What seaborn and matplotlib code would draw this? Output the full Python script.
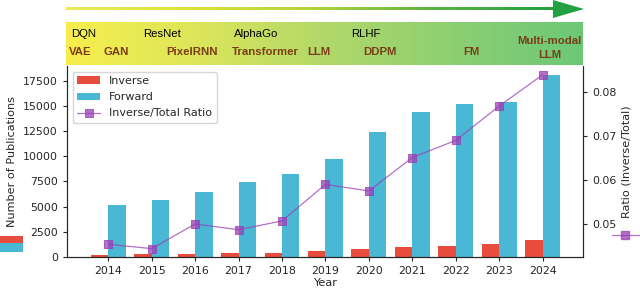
import numpy as np
import pandas as pd
import seaborn as sb
import matplotlib.pyplot as plt
from matplotlib.colors import LinearSegmentedColormap
from matplotlib.patches import Rectangle, Polygon
from matplotlib.lines import Line2D

# ##############################################################################
# data
years = [2014, 2015, 2016, 2017, 2018, 2019, 2020, 2021, 2022, 2023, 2024]
inverse = [245, 264, 338, 379, 438, 608, 759, 1002, 1125, 1282, 1654]
forward = [5160, 5690, 6420, 7410, 8200, 9700, 12440, 14390, 15180, 15410, 18060]
ratio = [0.0454, 0.0444, 0.0500, 0.0487, 0.0507, 0.0590, 0.0575, 0.0651, 0.0690, 0.0768, 0.0839]

# milestones on the banner (x as fraction of the banner width)
top_row = ['DQN', 'ResNet', 'AlphaGo', 'RLHF']
top_x = [0.010, 0.150, 0.324, 0.551]
bottom_row = ['VAE', 'GAN', 'PixelRNN', 'Transformer', 'LLM', 'DDPM', 'FM']
bottom_x = [0.006, 0.072, 0.194, 0.321, 0.467, 0.574, 0.768]

C_INV = '#e74c3c'
C_FWD = '#4ab8d5'
C_RAT = '#9b3fb5'
C_MILE = '#7a3e17'
FS_TICK = 7.9
FS_LAB = 8.1

# ##############################################################################
sb.set_style('ticks')
plt.rcParams['font.family'] = ['DejaVu Sans']

fig = plt.figure(figsize=(6.4, 2.91), dpi=100)
ax = fig.add_axes([67/640, 1-257/291, (583-67)/640, (257-66)/291])

df = pd.DataFrame({'Year': years * 2,
                   'Count': inverse + forward,
                   'Type': ['Inverse'] * len(years) + ['Forward'] * len(years)})
sb.barplot(data=df, x='Year', y='Count', hue='Type',
           palette={'Inverse': C_INV, 'Forward': C_FWD},
           width=0.8, linewidth=0, saturation=1, ax=ax)
ax.set_xlim(-0.95, len(years) - 1 + 0.93)
ax.set_ylim(0, 18960)
ax.set_yticks(np.arange(0, 17501, 2500))
ax.set_ylabel('Number of Publications', fontsize=FS_LAB)
ax.set_xlabel('Year', fontsize=FS_LAB, labelpad=1.5)
ax.tick_params(labelsize=FS_TICK, length=3)
ax.spines['top'].set_visible(False)

ax2 = ax.twinx()
sb.lineplot(x=np.arange(len(years)), y=ratio, ax=ax2, color=C_RAT,
            marker='s', markersize=5.5, linewidth=0.9, alpha=0.75,
            markeredgecolor=C_RAT, label='Inverse/Total Ratio', legend=False)
ax2.set_ylim(0.0425, 0.0859)
ax2.set_yticks([0.05, 0.06, 0.07, 0.08])
ax2.set_ylabel('Ratio (Inverse/Total)', fontsize=FS_LAB)
ax2.tick_params(labelsize=FS_TICK, length=3)
ax2.spines['top'].set_visible(False)

h1, l1 = ax.get_legend_handles_labels()
h2, l2 = ax2.get_legend_handles_labels()
ax.get_legend().remove()
leg = ax2.legend(h1 + h2, l1 + l2, loc='upper left', fontsize=8.0,
                 bbox_to_anchor=(0.0, 1.0), borderaxespad=0.5,
                 labelspacing=0.56, handlelength=2.1, handleheight=0.66)

# --------------------------------------------------------------------------
# banner with the milestones
bax = fig.add_axes([66/640, 1-65/291, (583-66)/640, (65-21.7)/291])
cmap = LinearSegmentedColormap.from_list('band', ['#f7ee4c', '#dde65a', '#b2d86a', '#8ccf72', '#6cc878'])
bax.imshow(np.linspace(0, 1, 256)[None, :], aspect='auto', cmap=cmap,
           extent=(0, 1, 0, 1))
bax.set_xlim(0, 1)
bax.set_ylim(0, 1)
bax.axis('off')
for t, x in zip(top_row, top_x):
    bax.text(x, 0.72, t, fontsize=8.2, family='Liberation Sans', va='center', ha='left', color='black')
for t, x in zip(bottom_row, bottom_x):
    bax.text(x, 0.31, t, fontsize=8.2, family='Liberation Sans', weight='bold',
             va='center', ha='left', color=C_MILE)
bax.text(0.935, 0.40, 'Multi-modal\nLLM', fontsize=8.2, family='Liberation Sans', weight='bold',
         va='center', ha='center', color=C_MILE, linespacing=1.5)

# --------------------------------------------------------------------------
# arrow on top
aax = fig.add_axes([66/640, 1-18/291, (584-66)/640, 18/291])
aax.set_xlim(0, 1)
aax.set_ylim(0, 1)
aax.axis('off')
acmap = LinearSegmentedColormap.from_list('arr', ['#eeea5a', '#dce23c', '#b4d43c', '#5cb440', '#22a040'])
aax.imshow(np.linspace(0, 1, 256)[None, :], aspect='auto', cmap=acmap,
           extent=(0, 0.94, 0.42, 0.57))
aax.add_patch(Polygon([[0.94, 0.0], [0.94, 1.0], [1.0, 0.5]], closed=True,
                      facecolor='#22a142', edgecolor='none'))

# --------------------------------------------------------------------------
# stray legend handles at the figure edges
fig.patches.append(Rectangle((0, 1-243.3/291), 23/640, 7.6/291, transform=fig.transFigure,
                             facecolor=C_INV, edgecolor='none'))
fig.patches.append(Rectangle((0, 1-251.7/291), 23/640, 8.4/291, transform=fig.transFigure,
                             facecolor=C_FWD, edgecolor='none'))
fig.lines.append(Line2D([612/640, 640/640], [1-234.5/291, 1-234.5/291], transform=fig.transFigure,
                        color=C_RAT, linewidth=0.9, alpha=0.75))
fig.lines.append(Line2D([625/640], [1-234.5/291], transform=fig.transFigure,
                        color=C_RAT, marker='s', markersize=5.5, alpha=0.75, linestyle='none'))

fig.savefig('out.png', dpi=100)
plt.close('all')
